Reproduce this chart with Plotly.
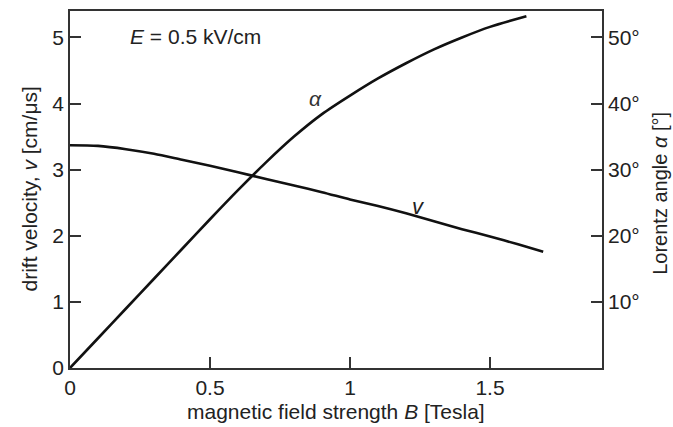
import plotly.graph_objects as go

# Drift velocity v [cm/us] vs magnetic field B [T]
B_v = [0, 0.1, 0.2, 0.3, 0.4, 0.5, 0.6, 0.7, 0.8, 0.9, 1.0, 1.1, 1.2, 1.3, 1.4, 1.5, 1.6, 1.69]
v = [3.37, 3.36, 3.31, 3.24, 3.15, 3.06, 2.96, 2.86, 2.76, 2.66, 2.55, 2.45, 2.34, 2.22, 2.10, 1.99, 1.87, 1.76]

# Lorentz angle alpha [deg] vs B [T]
B_a = [0, 0.1, 0.2, 0.3, 0.4, 0.5, 0.6, 0.7, 0.8, 0.9, 1.0, 1.1, 1.2, 1.3, 1.4, 1.5, 1.63]
alpha = [0, 4.5, 9.0, 13.5, 18.0, 22.5, 26.9, 31.1, 35.0, 38.4, 41.2, 43.8, 46.1, 48.2, 50.0, 51.6, 53.2]

x_ticks = [0, 0.5, 1, 1.5]
x_ticktext = ["0", "0.5", "1", "1.5"]
y_ticks = [0, 1, 2, 3, 4, 5]
y2_ticks = [10, 20, 30, 40, 50]
y2_ticktext = ["10°", "20°", "30°", "40°", "50°"]

FONT = "Liberation Sans, Arial, Helvetica, sans-serif"
FS = 21
AX = "#333333"
TXT = "#222222"

fig = go.Figure()
fig.add_trace(go.Scatter(x=B_v, y=v, mode="lines",
                         line=dict(color="#111111", width=2.6, shape="spline", smoothing=0.8),
                         showlegend=False, hoverinfo="skip"))
fig.add_trace(go.Scatter(x=B_a, y=alpha, mode="lines", yaxis="y2",
                         line=dict(color="#111111", width=2.6, shape="spline", smoothing=0.8),
                         showlegend=False, hoverinfo="skip"))

fig.update_layout(
    width=673, height=427,
    margin=dict(l=70, r=71, t=9, b=59),
    paper_bgcolor="white", plot_bgcolor="white",
    font=dict(family=FONT, size=FS, color=TXT),
    xaxis=dict(range=[0, 1.9], tickvals=x_ticks, ticktext=x_ticktext, ticks="inside", ticklen=11,
               tickwidth=1.6, tickcolor=AX, showline=True, linecolor=AX, linewidth=1.6, mirror=True,
               showgrid=False, zeroline=False, tickfont=dict(size=FS, color=TXT)),
    yaxis=dict(range=[0, 5.4], tickvals=y_ticks, ticks="inside", ticklen=11, tickwidth=1.6, tickcolor=AX,
               showline=True, linecolor=AX, linewidth=1.6, showgrid=False, zeroline=False,
               tickfont=dict(size=FS, color=TXT)),
    yaxis2=dict(range=[0, 54], tickvals=y2_ticks, ticktext=y2_ticktext, overlaying="y", side="right",
                ticks="inside", ticklen=11, tickwidth=1.6, tickcolor=AX, showline=True, linecolor=AX,
                linewidth=1.6, showgrid=False, zeroline=False, tickfont=dict(size=FS, color=TXT)),
)

fig.add_annotation(text="magnetic field strength <i>B</i> [Tesla]", xref="paper", yref="paper",
                   x=0.5, y=-0.1226, xanchor="center", yanchor="middle", showarrow=False,
                   font=dict(size=FS, color=TXT))
fig.add_annotation(text="drift velocity, <i>v</i> [cm/μs]", xref="paper", yref="paper",
                   x=-0.077, y=0.5, xanchor="center", yanchor="middle", textangle=-90, showarrow=False,
                   font=dict(size=FS, color=TXT))
fig.add_annotation(text="Lorentz angle <i>α</i> [°]", xref="paper", yref="paper",
                   x=1.1085, y=0.49, xanchor="center", yanchor="middle", textangle=-90, showarrow=False,
                   font=dict(size=FS - 1, color=TXT))
fig.add_annotation(text="<i>E</i> = 0.5 kV/cm", xref="paper", yref="paper",
                   x=0.235, y=0.9276, xanchor="center", yanchor="middle", showarrow=False,
                   font=dict(size=FS, color=TXT))
fig.add_annotation(text="<i>α</i>", x=0.875, y=4.075, xref="x", yref="y", showarrow=False,
                   font=dict(size=FS, color="#333333"))
fig.add_annotation(text="<i>v</i>", x=1.246, y=2.45, xref="x", yref="y", showarrow=False,
                   font=dict(size=FS + 1, color=TXT))

fig.write_html("out.html")
